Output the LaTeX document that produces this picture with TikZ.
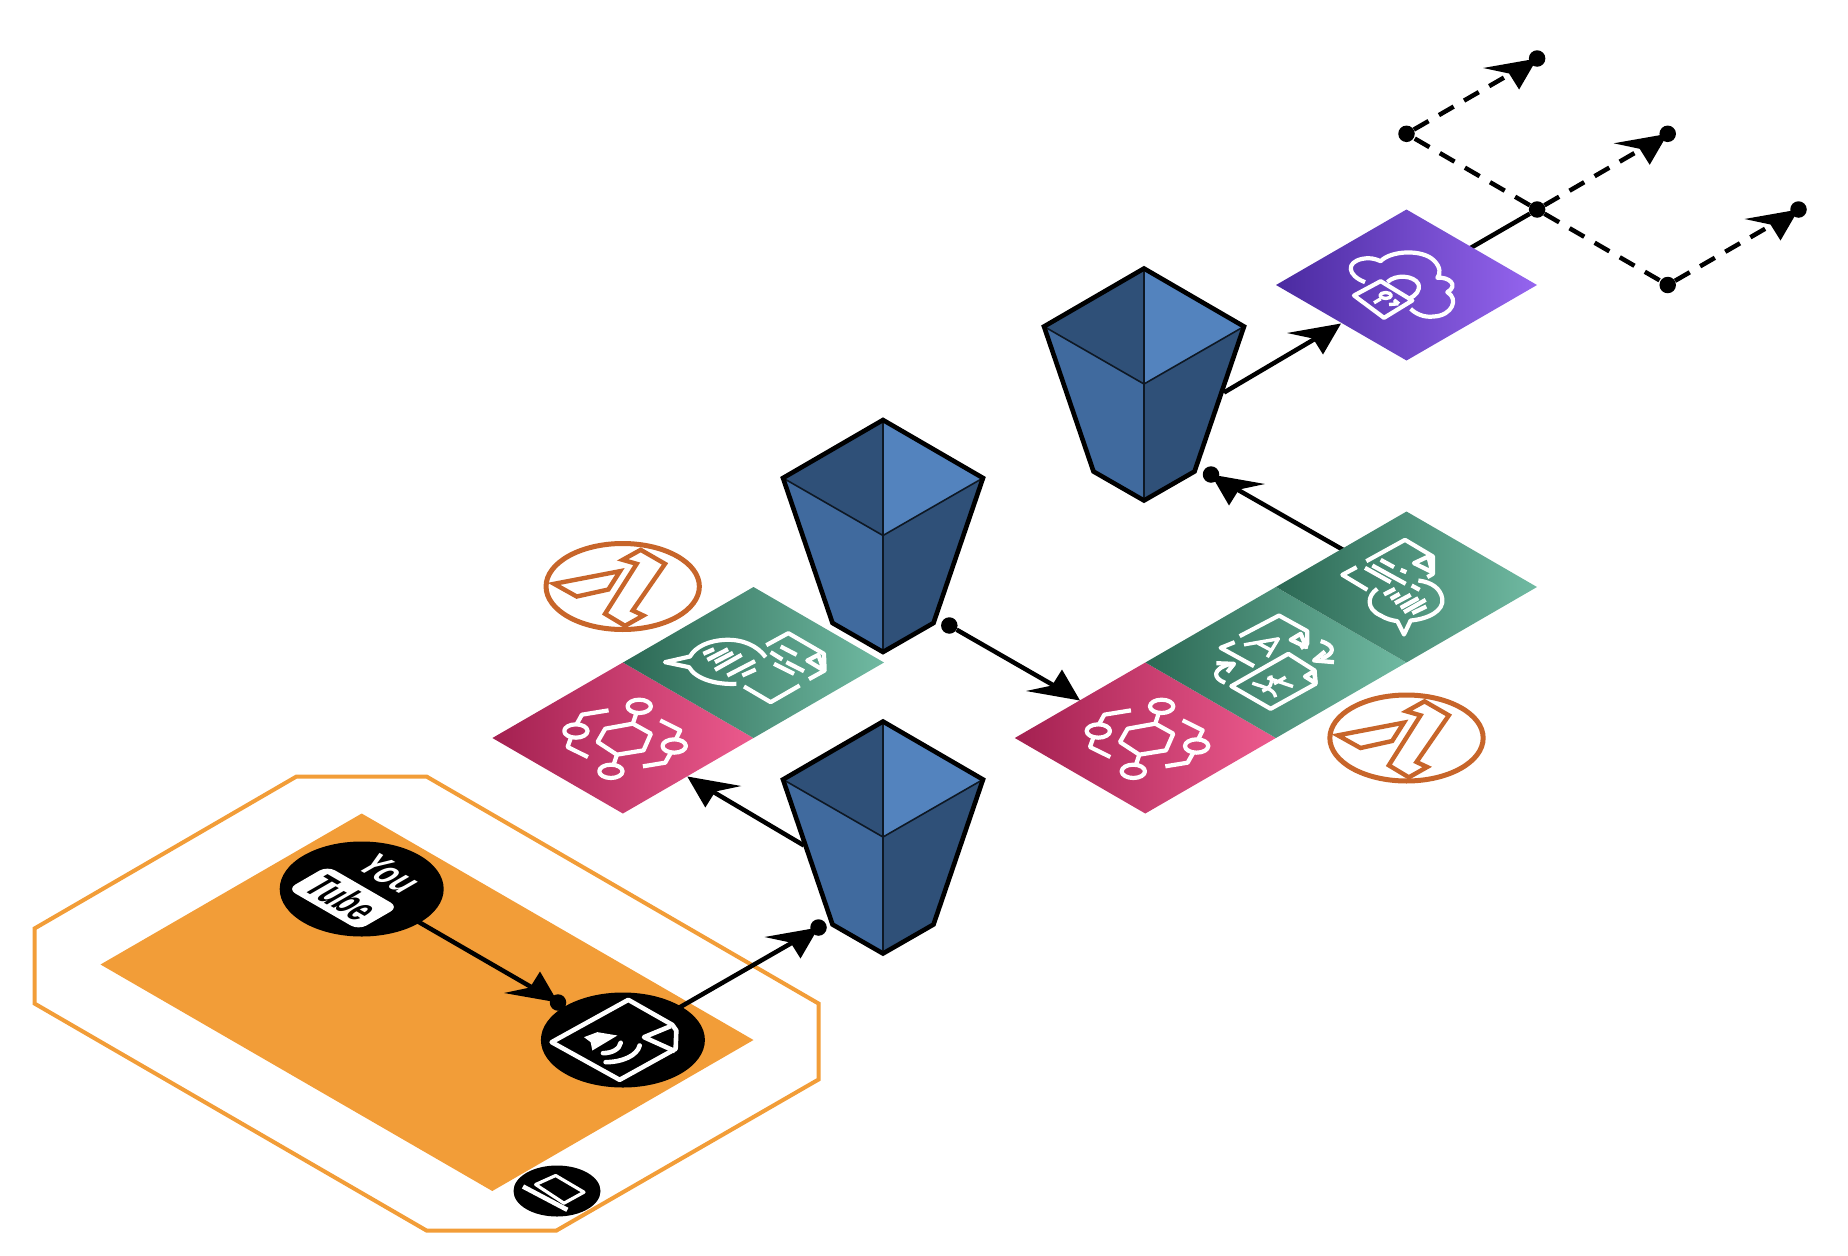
\documentclass[tikz,border=0pt]{standalone}
\usepackage{fontspec}
\setmainfont{Liberation Sans}
\usetikzlibrary{shapes.geometric,backgrounds}

\definecolor{awsorange}{HTML}{F29D38}
\definecolor{lambdaorange}{HTML}{C7652A}
\definecolor{bucketdark}{HTML}{2F5078}
\definecolor{bucketmid}{HTML}{406A9E}
\definecolor{bucketlight}{HTML}{5383BE}
\definecolor{pinkleft}{RGB}{163,32,80}
\definecolor{pinkright}{RGB}{236,90,141}
\definecolor{greenleft}{RGB}{43,104,84}
\definecolor{greenright}{RGB}{112,186,162}
\definecolor{purpleleft}{RGB}{74,42,160}
\definecolor{purpleright}{RGB}{149,101,239}

\tikzset{
  tile/.style={diamond,minimum width=261,minimum height=151,inner sep=0,outer sep=0},
  pinktile/.style={tile,left color=pinkleft,right color=pinkright},
  greentile/.style={tile,left color=greenleft,right color=greenright},
  purpletile/.style={tile,left color=purpleleft,right color=purpleright},
  blob/.style={ellipse,fill=black,inner sep=0},
  joint/.style={circle,fill=black,inner sep=0,minimum size=16.5},
  flow/.style={line width=4.5,shorten >=12},
  dashflow/.style={flow,dash pattern=on 17 off 12},
  glyph/.style={draw=white,line width=4.2,line join=round,fill=none},
  thinglyph/.style={glyph,line width=3.4},
  isohead/.pic={\fill (0,0) -- (-54,9.5) -- (-28,15) -- (-18,31) -- cycle;},
  eventicon/.pic={
    \begin{scope}[scale=.3333,shift={(-428,-653)}]
      \draw[glyph] (375,625) -- (458,610) -- (512,640) -- (490,690) -- (410,703) -- (352,665) -- cycle;
      \draw[glyph] (477,558) ellipse (35 and 20);
      \draw[glyph] (392,753) ellipse (35 and 20);
      \draw[glyph] (287,632) ellipse (35 and 20);
      \draw[glyph] (582,677) ellipse (35 and 20);
      \draw[glyph] (458,610) -- (468,579);
      \draw[glyph] (410,703) -- (400,733);
      \draw[glyph] (385,570) -- (305,583) -- (289,612);
      \draw[glyph] (272,652) -- (262,680) -- (323,710);
      \draw[glyph] (540,600) -- (600,630) -- (587,657);
      \draw[glyph] (572,697) -- (555,727) -- (488,738);
    \end{scope}},
  lambdaicon/.pic={
    \begin{scope}[scale=.3333,shift={(-428,-198)}]
      \draw[lambdaorange,line width=5] (428,198) ellipse (230 and 129);
      \draw[lambdaorange,line width=4.4,line join=miter] (222,190) -- (420,152) -- (385,207) -- (290,228) -- cycle;
      \draw[lambdaorange,line width=4.4,line join=miter] (428,118) -- (482,88) -- (555,130) -- (458,270) -- (490,285) -- (435,316) -- (375,280) -- (470,130) -- cycle;
    \end{scope}},
  bucket/.pic={
    \fill[bucketdark] (-100,0) -- (0,-58) -- (0,57.5) -- cycle;
    \fill[bucketlight] (100,0) -- (0,-58) -- (0,57.5) -- cycle;
    \fill[bucketmid] (-100,0) -- (0,57.5) -- (0,174) -- (-50.5,145) -- cycle;
    \fill[bucketdark] (100,0) -- (0,57.5) -- (0,174) -- (50.5,145) -- cycle;
    \draw[black!70!bucketdark,line width=1.6] (-100,0) -- (0,57.5) -- (100,0) (0,-58) -- (0,174);
    \draw[black,line width=4.6,line join=miter] (-100,0) -- (0,-58) -- (100,0) -- (50.5,145) -- (0,174) -- (-50.5,145) -- cycle;
  }
}

\begin{document}
\begin{tikzpicture}[x=1pt,y=-1pt]
\useasboundingbox (0,0) rectangle (1848,1256);

% flat tiles
\node[pinktile] (pinka) at (622.9,738) {};
\node[pinktile] (pinkb) at (1145.3,738) {};
\node[greentile] (transcribea) at (753.5,662.5) {};
\node[greentile] (translate) at (1275.9,662.5) {};
\node[greentile] (transcribeb) at (1406.5,587) {};
\node[purpletile] (purple) at (1406.5,285) {};

% circles
\node[blob,minimum width=164,minimum height=95] (youtube) at (361.7,889) {};
\node[blob,minimum width=164,minimum height=95] (audiofile) at (622.9,1040) {};
\node[blob,minimum width=87,minimum height=51] (laptop) at (557,1191) {};

% joints
\node[joint] (ja) at (558,1002.5) {};
\node[joint] (jb) at (818.5,927.5) {};
\node[joint] (jc) at (949.3,625.5) {};
\node[joint] (jd) at (1211,474.5) {};
\node[joint] (je) at (1537.1,209.5) {};
\node[joint] (jf) at (1406.5,133.8) {};
\node[joint] (jg) at (1667.7,133.8) {};
\node[joint] (jh) at (1537.1,58.5) {};
\node[joint] (ji) at (1667.7,285) {};
\node[joint] (jj) at (1798.5,209.5) {};

\coordinate (tipa) at (687.3,776.5);
\coordinate (tipb) at (1080,700.5);
\coordinate (tipc) at (1341,323.5);
\coordinate (froma) at (804,845.5);
\coordinate (fromb) at (1224,392.5);
\coordinate (fromc) at (1346,551.5);

\begin{scope}[on background layer]
  \draw[awsorange,line width=4] (296.5,776.5) -- (426.5,776.5) -- (818.5,1003.5) -- (818.5,1079.5) -- (556.5,1230.5) -- (426.5,1230.5) -- (34.5,1003.5) -- (34.5,928.5) -- cycle;
  \fill[awsorange] (361.7,813.5) -- (753.5,1040) -- (492.3,1191) -- (100.5,964.5) -- cycle;
  \draw[flow] (youtube.center) -- (ja);
  \draw[flow,shorten >=0] (audiofile.center) -- (jb);
  \draw[flow] (froma) -- (tipa);
  \draw[flow] (jc) -- (tipb);
  \draw[flow] (fromb) -- (tipc);
  \draw[flow] (fromc) -- (jd);
  \draw[line width=4.5] (purple.center) -- (je);
  \draw[dashflow,shorten >=0] (je) -- (jf);
  \draw[dashflow] (je) -- (jg);
  \draw[dashflow] (jf) -- (jh);
  \draw[dashflow,shorten >=0] (je) -- (ji);
  \draw[dashflow] (ji) -- (jj);
\end{scope}

% arrow heads
\pic[yscale=-1] at (ja) {isohead};
\pic at (jb) {isohead};
\pic[xscale=-1] at (tipa) {isohead};
\pic[yscale=-1] at (tipb) {isohead};
\pic at (tipc) {isohead};
\pic[xscale=-1] at (jd) {isohead};
\pic at (jg) {isohead};
\pic at (jh) {isohead};
\pic at (jj) {isohead};

% buckets
\pic at (883,478) {bucket};
\pic at (883,779.5) {bucket};
\pic at (1144,326.5) {bucket};

\pic at (pinka) {eventicon};
\pic at (pinkb) {eventicon};
\pic at (622.7,586.5) {lambdaicon};
\pic at (1406.5,738) {lambdaicon};

% speech to text, left tile
\begin{scope}[shift={(659,620.5)},scale=.3333]
  \draw[glyph] (320,110) .. controls (295,75) and (250,56) .. (200,58) .. controls (150,60) and (110,78) .. (93,108) -- (18,125) -- (90,140) .. controls (110,175) and (170,193) .. (232,190);
  \foreach \xa/\ya/\xb/\yb in {133/100/165/86,145/118/207/86,168/125/222/97,168/148/248/103,205/165/288/122,250/165/290/147}
    \draw[glyph] (\xa,\ya) -- (\xb,\yb);
  \draw[glyph] (322,74) -- (388,38) -- (495,100) -- (497,150) -- (450,176);
  \draw[glyph] (445,120) -- (478,103) -- (495,150) -- cycle;
  \draw[glyph] (365,78) -- (413,103);
  \draw[glyph] (335,95) -- (370,117);
  \draw[glyph] (345,130) -- (405,160);
  \draw[glyph] (382,125) -- (435,152);
  \draw[glyph] (255,198) -- (335,245) -- (422,195);
\end{scope}

% translate tile
\begin{scope}[shift={(1199,600.5)},scale=.3333]
  \draw[glyph] (122,107) -- (240,45) -- (325,92) -- (325,130) -- (305,143);
  \draw[glyph] (275,118) -- (305,100) -- (322,140) -- cycle;
  \draw[glyph] (107,125) -- (65,142) -- (165,197);
  \draw[thinglyph] (135,133) -- (238,115) -- (205,170) (175,127) -- (218,150);
  \draw[glyph] (268,160) -- (347,210) -- (350,250) -- (215,325) -- (97,257) -- cycle;
  \draw[glyph] (318,228) -- (345,212) -- (350,248) -- cycle;
  \draw[thinglyph] (205,232) -- (282,258) (260,230) -- (225,250);
  \draw[thinglyph] (160,248) .. controls (200,262) and (225,265) .. (230,290);
  \draw[thinglyph] (215,225) .. controls (222,250) and (215,262) .. (190,272);
  \draw[glyph] (365,122) .. controls (410,135) and (410,160) .. (365,175);
  \draw[glyph] (378,153) -- (345,180) -- (405,185);
  \draw[glyph] (78,247) .. controls (40,232) and (40,205) .. (95,190);
  \draw[glyph] (52,188) -- (105,190) -- (85,215);
\end{scope}

% text to speech, right tile
\begin{scope}[shift={(1329,530.5)},scale=.3333]
  \draw[glyph] (112,92) -- (228,28) -- (312,78) -- (312,130) -- (295,140);
  \draw[glyph] (255,98) -- (298,78) -- (310,125) -- cycle;
  \draw[glyph] (155,88) -- (195,110);
  \draw[glyph] (130,105) -- (230,160);
  \draw[glyph] (108,112) -- (185,155);
  \draw[glyph] (215,118) -- (232,125);
  \draw[glyph] (248,165) -- (272,178);
  \draw[glyph] (83,110) -- (40,133) -- (115,178);
  \draw[glyph] (145,175) .. controls (115,195) and (110,235) .. (155,255) .. controls (170,265) and (190,270) .. (205,272) -- (225,312) -- (245,270) .. controls (300,265) and (345,240) .. (340,205) .. controls (335,175) and (310,155) .. (268,150);
  \foreach \xa/\ya/\xb/\yb in {165/192/198/175,185/205/212/190,198/218/245/193,215/232/268/203,225/245/290/208,250/248/292/228}
    \draw[glyph] (\xa,\ya) -- (\xb,\yb);
\end{scope}

% cloud with lock
\begin{scope}[shift={(1339,240.5)},scale=.3333]
  \draw[glyph] (78,125) .. controls (25,105) and (20,65) .. (70,55) .. controls (90,50) and (110,55) .. (125,62) .. controls (155,30) and (250,25) .. (285,60) .. controls (305,80) and (305,100) .. (295,112) .. controls (330,108) and (360,135) .. (325,155) .. controls (360,175) and (340,225) .. (285,228) .. controls (255,232) and (230,220) .. (215,205);
  \draw[glyph] (45,165) -- (125,122) -- (220,180) -- (135,232) -- cycle;
  \draw[glyph] (145,125) .. controls (170,100) and (225,105) .. (238,130) .. controls (245,150) and (230,165) .. (210,175);
  \draw[thinglyph] (140,165) ellipse (17 and 9);
  \draw[thinglyph] (125,175) -- (105,187);
  \draw[thinglyph] (150,192) -- (178,190) (165,178) -- (180,190);
\end{scope}

% audio file
\begin{scope}[shift={(529,980.5)},scale=.3333]
  \draw[glyph,line width=4.6] (68,185) -- (298,58) -- (430,133) -- (442,150) -- (440,205) -- (272,298) -- cycle;
  \draw[glyph,line width=4.6] (425,137) -- (345,170) -- (438,212);
  \fill[white] (165,170) -- (205,155) -- (265,165) -- (190,210) -- (185,185) -- cycle;
  \draw[glyph,line width=4.6,line cap=round] (222,218) .. controls (250,218) and (272,205) .. (275,187);
  \draw[glyph,line width=4.6,line cap=round] (230,245) .. controls (280,245) and (325,225) .. (332,195);
\end{scope}

% laptop
\begin{scope}[shift={(509,1160.5)},scale=.3333]
  \draw[white,line width=3.2,line join=round] (80,72) -- (140,45) -- (225,95) -- (165,128) -- cycle;
  \draw[white,line width=4.6] (42,78) -- (175,148);
\end{scope}

% youtube logo
\node[rectangle,fill=white,rounded corners=9,minimum width=82,minimum height=46,inner sep=0,cm={.866,-.5,.866,.5,(0,0)}] (tubebox) at (343,898) {};
\node[inner sep=0,text=black,font=\bfseries\fontsize{44}{44}\selectfont,cm={.54,-.312,.866,.5,(0,0)}] (tubetext) at (tubebox) {Tube};
\node[inner sep=0,text=white,font=\bfseries\fontsize{42}{42}\selectfont,cm={.6,-.346,.866,.5,(0,0)}] (youtext) at (390,874) {You};
\end{tikzpicture}
\end{document}
